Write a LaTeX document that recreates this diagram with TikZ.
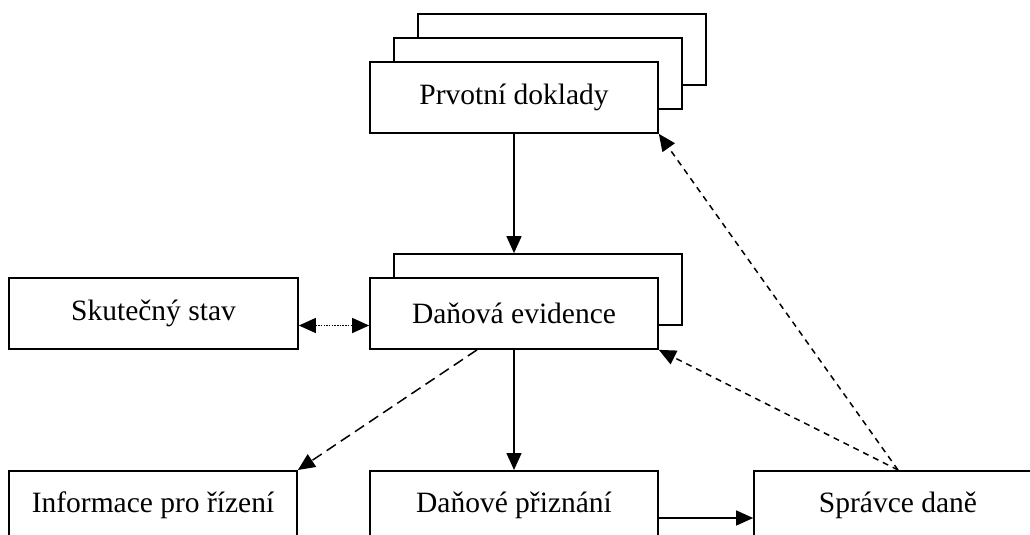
\documentclass[tikz,border=0pt]{standalone}
\usepackage{fontspec}
\setmainfont{Liberation Serif}
\usetikzlibrary{arrows.meta,calc}
\begin{document}
\begin{tikzpicture}[x=1pt,y=-1pt,
  box/.style={draw,line width=1.7pt,fill=white,minimum width=288pt,minimum height=71pt,inner sep=0pt,
    font=\fontsize{29.5}{34}\selectfont},
  tallbox/.style={box,minimum height=90pt},
  tip/.tip={Triangle[length=17pt,width=15pt]},
  conn/.style={line width=1.5pt,-tip},
  dconn/.style={conn,dash pattern=on 6pt off 5pt},
  ldconn/.style={conn,dash pattern=on 11pt off 6pt},
  dotconn/.style={line width=1.5pt,dash pattern=on 1.5pt off 1.2pt,tip-tip}]
\clip (0,0) rectangle (1030,535);
\useasboundingbox (0,0) rectangle (1030,535);
% Prvotni doklady stack
\node[box] (pdb2) at (562,49.5) {};
\node[box] (pdb1) at (538,73.5) {};
\node[box] (pd) at (514,97.5) {Prvotní doklady};
% Danova evidence stack
\node[box] (deb) at (538,289.5) {};
\node[box] (de) at (514,313.5) {Daňová evidence};
\node[box,minimum width=289pt] (ss) at (153.5,313.5) {Skutečný stav};
% bottom row
\node[tallbox,anchor=north] (ip) at (153,470) {};
\node at (153,505) [font=\fontsize{29.5}{34}\selectfont] (ipt) {Informace pro řízení};
\node[tallbox,anchor=north] (dp) at (514,470) {};
\node at (514,505) [font=\fontsize{29.5}{34}\selectfont] (dpt) {Daňové přiznání};
\node[tallbox,anchor=north] (sd) at (898,470) {};
\node at (898,505) [font=\fontsize{29.5}{34}\selectfont] (sdt) {Správce daně};
% connectors
\draw[conn] (pd.south) -- (pd.south |- deb.north);
\draw[conn] (de.south) -- (dp.north);
\draw[conn] ([yshift=-48pt]dp.north east) -- ([yshift=-48pt]sd.north west);
\draw[dotconn] ([yshift=-12pt]ss.east) -- ([yshift=-12pt]de.west);
\draw[ldconn] ([xshift=-37pt]de.south) -- (ip.north east);
\draw[dconn] (sd.north) -- (de.south east);
\draw[dconn] (sd.north) -- (pd.south east);
\end{tikzpicture}
\end{document}
